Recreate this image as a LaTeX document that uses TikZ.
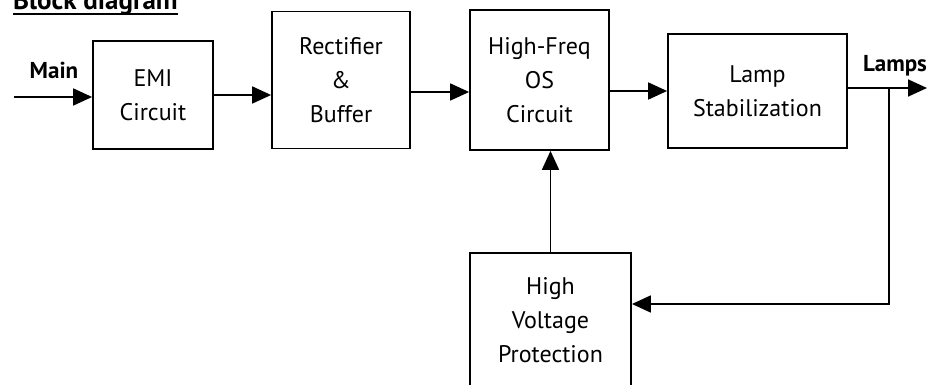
\documentclass[tikz,border=0pt]{standalone}
\usepackage{fontspec}
\setmainfont{PT Sans}
\usetikzlibrary{arrows.meta,calc}
\begin{document}
\begin{tikzpicture}[x=1pt,y=-1pt,
  blk/.style={draw,line width=1.8pt,align=center,inner sep=0pt,
    font=\fontsize{24}{34}\selectfont},
  conn/.style={line width=1.8pt,-{Triangle[length=19pt,width=17pt]}},
  lbl/.style={font=\bfseries\fontsize{23}{26}\selectfont,inner sep=0pt}]
\useasboundingbox (0,0) rectangle (930,385);
\clip (0,0) rectangle (930,385);
% title (cut off at the top, as in the reference)
\node[lbl,anchor=base west,font=\bfseries\fontsize{27}{30}\selectfont] (title) at (13,10) {Block diagram};
\draw[line width=1.8pt] ($(title.base west)+(0,4)$) -- ($(title.base east)+(0,4)$);
% blocks
\node[blk,minimum width=120pt,minimum height=108pt] (emi) at (153,95) {EMI\\Circuit};
\node[blk,minimum width=138pt,minimum height=137pt] (rect) at (341,80) {Rectifier\\\&\\Buffer};
\node[blk,minimum width=139pt,minimum height=140pt] (hf) at (539.5,80) {High-Freq\\OS\\Circuit};
\node[blk,minimum width=179pt,minimum height=114pt] (lamp) at (757.5,91) {Lamp\\Stabilization};
\node[blk,minimum width=161pt,minimum height=134pt] (hv) at (550.5,320) {High\\Voltage\\Protection};
% labels
\node[lbl] (main) at (54,70) {Main};
\node[lbl] (lamps) at (895,66) {Lamps};
% connectors
\coordinate (in) at (14,97);
\coordinate (out) at (927,88);
\coordinate (tap) at (889,88);
\coordinate (fb) at (889,304);
\draw[conn] (in) -- (in -| emi.west);
\draw[conn] (emi.east) -- (emi.east -| rect.west);
\draw[conn] ($(rect.east)+(0,12)$) -- ($(rect.east -| hf.west)+(0,12)$);
\draw[conn] (lamp.west -| hf.east) -- (lamp.west);
\draw[conn] (tap -| lamp.east) -- (out);
\draw[conn] (tap) -- (fb) -- (fb -| hv.east);
\draw[conn] (hv.north) -- (hv.north |- hf.south);
\end{tikzpicture}
\end{document}
